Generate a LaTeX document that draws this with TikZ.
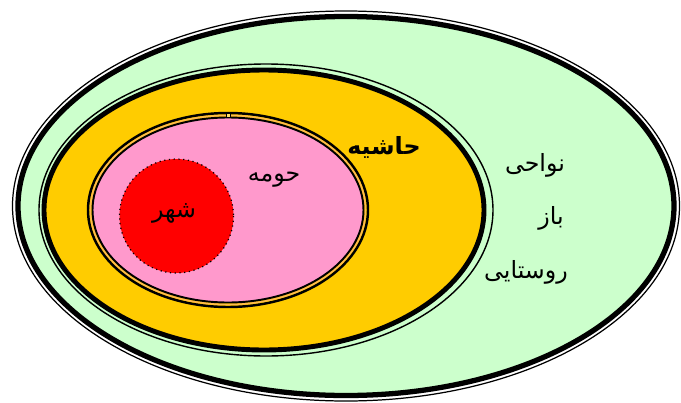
\documentclass[tikz,border=0pt]{standalone}
\usepackage{fontspec}
\newfontfamily\arabicfont[Script=Arabic]{DejaVu Sans}
\TeXXeTstate=1
\usetikzlibrary{positioning}

\definecolor{ruralgreen}{HTML}{CCFFCC}
\definecolor{fringeorange}{HTML}{FFCC00}
\definecolor{suburbpink}{HTML}{FF99CC}
\definecolor{cityred}{HTML}{FF0000}

\begin{document}
\begin{tikzpicture}[x=0.02cm,y=-0.02cm,
  zonelabel/.style={font=\arabicfont\fontsize{13.5}{16}\selectfont},
  boldlabel/.style={font=\arabicfont\bfseries\fontsize{13.5}{16}\selectfont}]
\useasboundingbox (0,0) rectangle (681,403);

% Rural region
\draw[line width=0.7pt] (346,206) ellipse (333.5 and 195);
\draw[line width=3pt,fill=ruralgreen] (346,206) ellipse (328 and 189.5);

% Fringe
\draw[line width=0.8pt] (266,210) ellipse (227 and 146);
\draw[line width=2.8pt,fill=fringeorange] (264,210) ellipse (220 and 140);

% Suburb
\draw[line width=1.4pt] (228,210) ellipse (140 and 97);
\draw[line width=0.8pt,fringeorange!60!suburbpink] (228,210) ellipse (137.5 and 94.5);
\draw[line width=1.1pt,fill=suburbpink] (228,210) ellipse (135.5 and 92.5);
\draw[line width=0.5pt,fill=fringeorange!60] (226,113) rectangle (230,117);

% City
\draw[dotted,line width=0.7pt,fill=cityred] (176.5,216) circle (57);

% Labels
\node[zonelabel] (shahr) at (174,213) {\beginR شهر\endR};
\node[zonelabel] (hume) at (274,180) {\beginR حومه\endR};
\node[boldlabel] (hashie) at (384,147) {\beginR حاشیه\endR};
\node[zonelabel] (navahi) at (535,165) {\beginR نواحی\endR};
\node[zonelabel] (baz) at (551,218) {\beginR باز\endR};
\node[zonelabel] (rustaei) at (526,272) {\beginR روستایی\endR};
\end{tikzpicture}
\end{document}
